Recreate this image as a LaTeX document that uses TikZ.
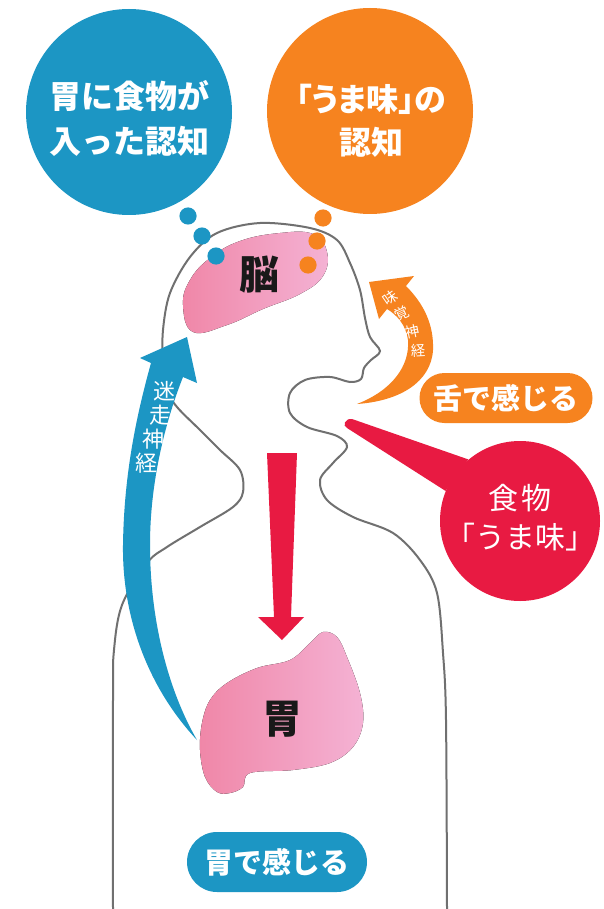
\documentclass[tikz,border=0pt]{standalone}
\usepackage{fontspec}
\setmainfont{Noto Sans CJK JP}
\newfontfamily\paltfont{Noto Sans CJK JP}[RawFeature=+palt]
\usetikzlibrary{shapes.misc}

\definecolor{nerveblue}{RGB}{28,150,196}
\definecolor{tasteorange}{RGB}{246,131,31}
\definecolor{foodred}{RGB}{232,26,66}
\definecolor{organdark}{RGB}{240,135,168}
\definecolor{organlight}{RGB}{244,178,212}
\definecolor{outlinegray}{RGB}{112,112,112}

\begin{document}
\begin{tikzpicture}[x=0.5pt, y=-0.5pt,
    bubble/.style={circle, inner sep=0pt},
    bubbletext/.style={text=white, align=center, inner sep=0pt},
    pill/.style={rounded rectangle, inner sep=0pt, text=white,
        font=\bfseries\fontsize{14.5pt}{16pt}\selectfont},
    organ/.style={text=black!90, font=\bfseries\fontsize{20pt}{20pt}\selectfont},
    nervetext/.style={text=white, inner sep=0pt},
    outline/.style={draw=outlinegray, line width=1pt}]
    \useasboundingbox[fill=white] (0,0) rectangle (604,909);

    % Body outline
    \draw[outline] plot[smooth, tension=0.55] coordinates {
        (113,909) (113,700) (114,650) (122,605) (147,563) (167,547)
        (200,527) (233,507) (243,492) (240,470) (220,450) (200,430)
        (177,407) (167,390) (163,363) (163,330) (170,293) (190,257)
        (217,233) (260,223) (310,228) (337,240) (350,263) (360,290)
        (365,318) (370,337) (380,351) (371,360) (364,368) (361,379)
        (350,382) (330,377) (305,380) (290,393) (290,413) (307,427)
        (337,436) (347,447) (333,463) (320,480) (327,500) (353,517)
        (393,533) (420,560) (437,593) (443,653) (446,720) (447,909)};

    % Brain
    \fill[left color=organdark, right color=organlight]
        plot[smooth cycle, tension=0.7] coordinates {
        (193,332) (183,305) (190,280) (210,258) (240,241) (280,233)
        (313,234) (327,252) (323,276) (300,294) (263,309) (227,325)};
    \node[organ] (brain) at (259,275) {脳};

    % Vagus nerve
    \fill[nerveblue] (197,740)
        .. controls (150,690) and (122,620) .. (123,545)
        .. controls (124,470) and (138,410) .. (151,363)
        -- (140,358) -- (187,337) -- (197,383) -- (183,377)
        .. controls (166,420) and (150,480) .. (150,545)
        .. controls (150,620) and (168,690) .. (197,740) -- cycle;
    \foreach \ch/\px/\py in {迷/164/391, 走/160/415, 神/153/439, 経/146/463}
        \node[nervetext, font=\fontsize{11pt}{11pt}\selectfont] at (\px,\py) {\ch};

    % Stomach
    \fill[left color=organdark, right color=organlight]
        plot[smooth cycle, tension=0.6] coordinates {
        (310,643) (323,632) (337,637) (347,657) (360,693) (363,723)
        (353,747) (330,763) (293,770) (250,773) (243,787) (230,793)
        (217,792) (205,777) (200,750) (202,723) (210,700) (227,683)
        (257,668) (290,660)};
    \node[organ] (stomach) at (282,719) {胃};

    % Taste nerve
    \fill[tasteorange] (357,404)
        .. controls (393,390) and (410,365) .. (408,340)
        .. controls (406,325) and (397,315) .. (387,309)
        -- (379,319) -- (369,282) -- (414,276) -- (406,286)
        .. controls (424,304) and (434,325) .. (433,350)
        .. controls (431,382) and (400,401) .. (357,404) -- cycle;
    \foreach \ch/\px/\py/\rot in {味/390/298/35, 覚/402/314/25, 神/412/332/12, 経/418/351/3}
        \node[nervetext, rotate=\rot, font=\fontsize{7.2pt}{7.2pt}\selectfont] at (\px,\py) {\ch};

    % Food going down
    \fill[foodred] (267,453) -- (297,453) -- (291,617) -- (304,617)
        -- (282,640) -- (258,617) -- (274,617) -- cycle;

    % Bubbles
    \node[bubble, fill=nerveblue, minimum size=103pt] (stomachcog) at (129,112) {};
    \node[bubbletext, font=\bfseries\fontsize{16pt}{22.5pt}\selectfont]
        at (129,118) {胃に食物が\\入った認知};

    \node[bubble, fill=tasteorange, minimum size=103pt] (tastecog) at (370,111) {};
    \node[bubbletext, font=\bfseries\fontsize{16pt}{21.5pt}\selectfont]
        at (371,121) {{\paltfont\bfseries 「うま味」の}\\認知};

    \node[bubble, fill=foodred, minimum size=80pt] (food) at (520,521) {};
    \coordinate (mouth) at (350,423);
    \fill[foodred] (mouth) ++(2,-4) -- (food.130) -- (food.158) -- (347,428)
        .. controls (342,426) and (345,418) .. (352,419) -- cycle;
    \node[bubbletext, font=\fontsize{15pt}{19.5pt}\selectfont]
        at (520,518) {食\hspace{2pt}物\\「うま味」};

    % Thought dots
    \foreach \px/\py in {188/216, 202/236, 216/256}
        \fill[nerveblue] (\px,\py) circle (4.3pt);
    \foreach \px/\py in {323/218, 317/241, 308/265}
        \fill[tasteorange] (\px,\py) circle (4.3pt);

    % Labels
    \node[pill, fill=tasteorange, minimum width=86.5pt, minimum height=25pt]
        (tongue) at (506,398) {舌で感じる};
    \node[pill, fill=nerveblue, minimum width=90pt, minimum height=30pt]
        (belly) at (277,862) {胃で感じる};
\end{tikzpicture}
\end{document}
